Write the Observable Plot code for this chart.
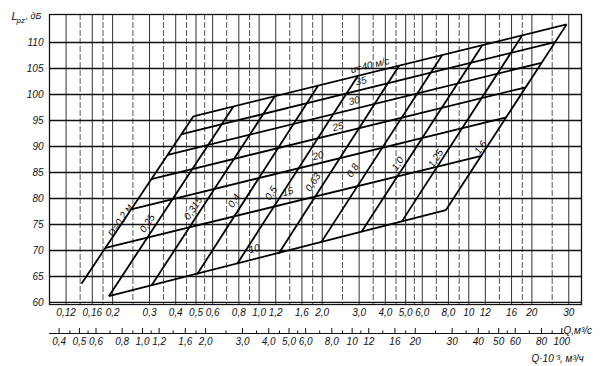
<!DOCTYPE html>
<html><head><meta charset="utf-8">
<script src="https://cdn.jsdelivr.net/npm/d3@7"></script>
<script src="https://cdn.jsdelivr.net/npm/@observablehq/plot@0.6"></script>
<style>body{margin:0;background:#fff}</style>
</head><body><div id="chart"></div>
<script>
// ---- axes / ticks ----
const yTicks = [60, 65, 70, 75, 80, 85, 90, 95, 100, 105, 110];
const qTicks = [0.12, 0.16, 0.2, 0.3, 0.4, 0.5, 0.6, 0.8, 1, 1.2, 1.6, 2, 3, 4, 5, 6, 8, 10, 12, 16, 20, 30];
const qTickLabels = ["0,12", "0,16", "0,2", "0,3", "0,4", "0,5", "0,6", "0,8", "1,0", "1,2", "1,6", "2,0", "3,0", "4,0", "5,0", "6,0", "8,0", "10", "12", "16", "20", "30"];
const qMinorGrid = [0.14, 0.18, 0.25, 0.35, 0.45, 0.55, 0.7, 0.9, 1.4, 1.8, 2.5, 3.5, 4.5, 5.5, 7, 9, 14, 18, 25];
const hourTicks = [0.4, 0.5, 0.6, 0.8, 1.0, 1.2, 1.6, 2.0, 3.0, 4.0, 5.0, 6.0, 8.0, 10, 12, 16, 20, 30, 40, 50, 60, 80, 100];
const hourTickLabels = ["0,4", "0,5", "0,6", "0,8", "1,0", "1,2", "1,6", "2,0", "3,0", "4,0", "5,0", "6,0", "8,0", "10", "12", "16", "20", "30", "40", "50", "60", "80", "100"];
const hourMinorTicks = [0.45, 0.55, 0.7, 0.9, 1.1, 1.4, 1.8, 2.5, 3.5, 4.5, 5.5, 7, 9, 11, 14, 18, 25, 35, 45, 55, 70, 90];
const m3hPerM3s = 3.6; // 1 m³/s = 3.6·10³ m³/h

// ---- diameter lines D (m) ----
const diameterLabels = ["D=0,2 м", "0,25", "0,315", "0,4", "0,5", "0,63", "0,8", "1,0", "1,25", "1,6"];
const dLowQ  = [0.142, 0.192, 0.306, 0.506, 0.785, 1.24, 1.98, 3.08, 4.78, 7.77];
const dLowL  = [63.6, 61.2, 63.2, 65.4, 67.4, 69.4, 71.6, 73.6, 75.5, 77.75];
const dHighQ = [0.486, 0.754, 1.19, 1.91, 2.96, 4.66, 7.47, 11.6, 18.0, 29.3];
const dHighL = [95.8, 97.7, 99.7, 101.7, 103.6, 105.6, 107.6, 109.5, 111.4, 113.5];
const dLabelQ = [0.218, 0.293, 0.485, 0.76, 1.14, 1.81, 2.80, 4.59, 6.96, 11.4];
const dLabelL = [75.8, 75.2, 78.1, 79.6, 81.0, 83.1, 85.4, 86.7, 87.7, 89.8];

// ---- velocity lines u (m/s) ----
const velocityLabels = ["10", "15", "20", "25", "30", "35", "u=40 м/с"];
const uStartQ = [0.192, 0.185, 0.245, 0.306, 0.367, 0.428, 0.486];
const uStartL = [61.2, 70.5, 77.9, 83.7, 88.4, 92.4, 95.8];
const uEndQ   = [7.77, 11.5, 15.1, 18.7, 22.2, 25.8, 29.3];
const uEndL   = [77.75, 88.2, 95.6, 101.4, 106.1, 110.1, 113.5];
const uLabelQ = [0.947, 1.37, 1.91, 2.38, 2.84, 3.06, 3.38];
const uLabelL = [70.3, 81.3, 88.2, 93.8, 98.8, 102.6, 105.6];

const dLines = diameterLabels.map((name, i) => ({name, x1: dLowQ[i], y1: dLowL[i], x2: dHighQ[i], y2: dHighL[i]}));
const uLines = velocityLabels.map((name, i) => ({name, x1: uStartQ[i], y1: uStartL[i], x2: uEndQ[i], y2: uEndL[i]}));
const dLabels = diameterLabels.map((name, i) => ({name, x: dLabelQ[i], y: dLabelL[i]}));
const uLabels = velocityLabels.map((name, i) => ({name, x: uLabelQ[i], y: uLabelL[i]}));

const qTickData = qTicks.map((q, i) => ({x: q, label: qTickLabels[i]}));
const hourTickData = hourTicks.map((v, i) => ({x: v / m3hPerM3s, label: hourTickLabels[i]}));
const hourPos = hourTickData.map(d => d.x);
const hourMinorPos = hourMinorTicks.map(v => v / m3hPerM3s);

const xDomain = [0.1, 34.5];
const yDomain = [59.6, 115.4];
const font = "Liberation Sans, Arial, sans-serif";

const chart = Plot.plot({
  width: 604,
  height: 366,
  marginLeft: 49,
  marginRight: 23,
  marginTop: 14,
  marginBottom: 62,
  x: {type: "log", domain: xDomain, axis: null},
  y: {domain: yDomain},
  style: {fontFamily: font, fontStyle: "italic", fontSize: "10px", background: "#fff", color: "#111"},
  marks: [
    Plot.ruleX(qMinorGrid, {stroke: "#444", strokeWidth: 0.9, strokeDasharray: "6,2"}),
    Plot.ruleX(qTicks, {stroke: "#333", strokeWidth: 1}),
    Plot.ruleY(yTicks, {stroke: "#111", strokeWidth: 1.4}),
    Plot.frame({stroke: "#111", strokeWidth: 1.3}),
    Plot.axisY({ticks: yTicks, tickSize: 0, tickPadding: 6, label: null, fontSize: 10}),
    // first scale: Q, m³/s
    Plot.text(qTickData, {x: "x", text: "label", frameAnchor: "bottom", lineAnchor: "top", dy: 4, fontSize: 10}),
    // second scale: Q·10^-3, m³/h
    Plot.ruleY([yDomain[0]], {x1: xDomain[0], x2: hourPos[hourPos.length - 1] * 1.03, dy: 29, stroke: "#111", strokeWidth: 1}),
    Plot.axisX({ticks: hourPos, tickSize: 5, dy: 24, fill: "none", label: null, stroke: "#111"}),
    Plot.axisX({ticks: hourMinorPos, tickSize: 2.5, dy: 26.5, fill: "none", label: null, stroke: "#111"}),
    Plot.text(hourTickData, {x: "x", text: "label", frameAnchor: "bottom", lineAnchor: "top", dy: 33, fontSize: 10}),
    Plot.text(["Q,м³/с"], {frameAnchor: "bottom-right", textAnchor: "start", lineAnchor: "middle", dx: -18, dy: 26, fontSize: 10}),
    Plot.text(["Q·10⁻³, м³/ч"], {frameAnchor: "bottom-right", textAnchor: "start", lineAnchor: "middle", dx: -50, dy: 54, fontSize: 10}),
    // y label
    Plot.text(["L"], {frameAnchor: "top-left", textAnchor: "start", lineAnchor: "middle", dx: -38, dy: 2, fontSize: 11}),
    Plot.text(["pz"], {frameAnchor: "top-left", textAnchor: "start", lineAnchor: "middle", dx: -33, dy: 6, fontSize: 8}),
    Plot.text([", дБ"], {frameAnchor: "top-left", textAnchor: "start", lineAnchor: "middle", dx: -24, dy: 2, fontSize: 9}),
    // nomogram lines
    Plot.link(uLines, {x1: "x1", y1: "y1", x2: "x2", y2: "y2", stroke: "#000", strokeWidth: 1.8}),
    Plot.link(dLines, {x1: "x1", y1: "y1", x2: "x2", y2: "y2", stroke: "#000", strokeWidth: 1.8}),
    Plot.text(dLabels, {x: "x", y: "y", text: "name", rotate: -57, fontSize: 10}),
    Plot.text(uLabels, {x: "x", y: "y", text: "name", rotate: -14, fontSize: 10})
  ]
});
document.getElementById("chart").append(chart);
</script></body></html>
